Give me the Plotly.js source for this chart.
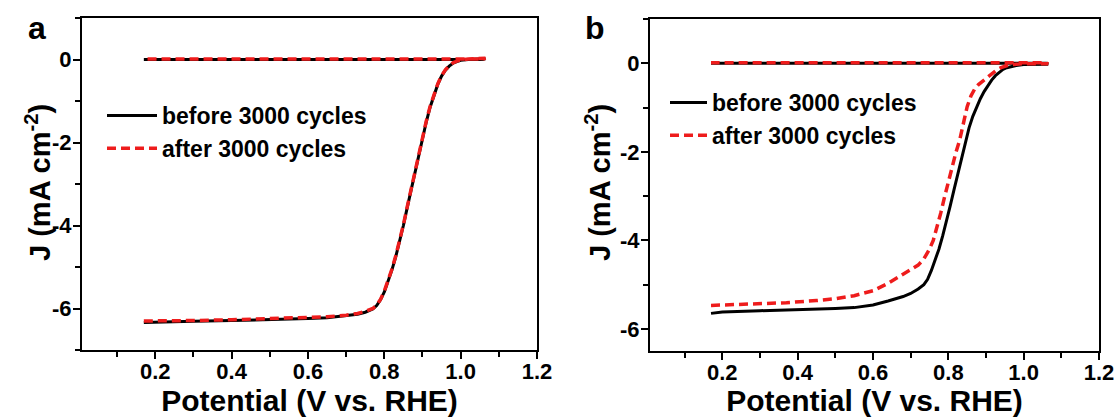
<!DOCTYPE html>
<html>
<head>
<meta charset="utf-8">
<script src="https://cdn.plot.ly/plotly-3.0.1.min.js"></script>
<style>html,body{margin:0;padding:0;background:#fff;}#chart{width:1120px;height:417px;}</style>
</head>
<body>
<div id="chart"></div>
<script>
// ---- Panel a data ----
var aBeforeX = [0.17,0.2,0.3,0.4,0.5,0.6,0.65,0.7,0.73,0.75,0.77,0.78,0.79,0.8,0.81,0.82,0.83,0.84,0.85,0.86,0.87,0.88,0.89,0.9,0.91,0.92,0.93,0.94,0.95,0.96,0.97,0.98,0.99,1.0,1.02,1.04,1.065,1.06,0.8,0.5,0.17];
var aBeforeY = [-6.34,-6.33,-6.31,-6.29,-6.27,-6.24,-6.22,-6.18,-6.14,-6.09,-6.01,-5.93,-5.79,-5.6,-5.36,-5.07,-4.75,-4.4,-4.0,-3.57,-3.15,-2.72,-2.3,-1.9,-1.5,-1.15,-0.85,-0.6,-0.4,-0.26,-0.16,-0.09,-0.05,-0.02,0.0,0.01,0.02,0.0,0.0,0.0,0.0];
var aAfterX  = [0.17,0.2,0.3,0.4,0.5,0.6,0.65,0.7,0.73,0.75,0.77,0.78,0.79,0.8,0.81,0.82,0.83,0.84,0.85,0.86,0.87,0.88,0.89,0.9,0.91,0.92,0.93,0.94,0.95,0.96,0.97,0.98,0.99,1.0,1.02,1.04,1.065,1.06,0.8,0.5,0.17];
var aAfterY  = [-6.30,-6.30,-6.29,-6.27,-6.25,-6.22,-6.20,-6.16,-6.12,-6.07,-6.0,-5.92,-5.78,-5.58,-5.34,-5.05,-4.73,-4.38,-3.98,-3.55,-3.13,-2.7,-2.28,-1.88,-1.48,-1.13,-0.84,-0.59,-0.39,-0.25,-0.15,-0.08,-0.04,-0.01,0.01,0.02,0.03,0.01,0.01,0.01,0.01];

// ---- Panel b data ----
var bBeforeX = [0.17,0.2,0.3,0.4,0.5,0.55,0.6,0.64,0.68,0.7,0.72,0.735,0.745,0.755,0.765,0.775,0.785,0.795,0.805,0.815,0.825,0.835,0.845,0.855,0.865,0.875,0.885,0.895,0.905,0.915,0.925,0.935,0.945,0.955,0.97,0.98,1.0,1.03,1.065,1.06,0.8,0.5,0.17];
var bBeforeY = [-5.65,-5.62,-5.59,-5.57,-5.54,-5.52,-5.46,-5.37,-5.27,-5.2,-5.1,-5.0,-4.88,-4.68,-4.45,-4.2,-3.9,-3.58,-3.22,-2.86,-2.5,-2.12,-1.76,-1.46,-1.2,-0.98,-0.8,-0.64,-0.5,-0.38,-0.28,-0.2,-0.14,-0.1,-0.06,-0.05,-0.03,-0.02,-0.02,0.0,0.0,0.0,0.0];
var bAfterX  = [0.17,0.2,0.25,0.3,0.37,0.45,0.5,0.55,0.6,0.64,0.67,0.7,0.72,0.735,0.75,0.76,0.77,0.78,0.79,0.8,0.81,0.82,0.83,0.84,0.85,0.86,0.87,0.88,0.89,0.9,0.91,0.92,0.93,0.94,0.95,0.96,0.98,1.0,1.065,1.06,0.8,0.5,0.17];
var bAfterY  = [-5.47,-5.46,-5.45,-5.44,-5.41,-5.36,-5.32,-5.25,-5.14,-4.97,-4.82,-4.68,-4.56,-4.42,-4.2,-4.0,-3.72,-3.38,-3.02,-2.66,-2.32,-2.02,-1.74,-1.35,-0.98,-0.74,-0.58,-0.48,-0.41,-0.34,-0.27,-0.19,-0.14,-0.1,-0.07,-0.04,-0.02,-0.01,-0.01,0.01,0.01,0.01,0.01];

// ---- Labels ----
var seriesNames = ['before 3000 cycles', 'after 3000 cycles'];
var xTickVals = [0.2,0.4,0.6,0.8,1.0,1.2];
var xTickText = ['0.2','0.4','0.6','0.8','1.0','1.2'];
var aYTickVals = [-6,-4,-2,0];
var aYTickText = ['-6','-4','-2','0'];
var bYTickVals = [-6,-4,-2,0];
var bYTickText = ['-6','-4','-2','0'];
var xTitle = 'Potential (V vs. RHE)';
var yTitle = 'J (mA cm<sup>-2</sup>)';
var panelLabels = ['a','b'];

var FONT = 'Liberation Sans, Arial, sans-serif';
var RED = '#ee1c1c';

var traces = [
  {x:aBeforeX, y:aBeforeY, xaxis:'x', yaxis:'y', mode:'lines', name:seriesNames[0], legend:'legend', legendgroup:'a1',
   line:{color:'#000', width:3}},
  {x:aAfterX, y:aAfterY, xaxis:'x', yaxis:'y', mode:'lines', name:seriesNames[1], legend:'legend', legendgroup:'a2',
   line:{color:RED, width:3.5, dash:'9px,5px'}},
  {x:bBeforeX, y:bBeforeY, xaxis:'x2', yaxis:'y2', mode:'lines', name:seriesNames[0], legend:'legend2', legendgroup:'b1',
   line:{color:'#000', width:3}},
  {x:bAfterX, y:bAfterY, xaxis:'x2', yaxis:'y2', mode:'lines', name:seriesNames[1], legend:'legend2', legendgroup:'b2',
   line:{color:RED, width:3.5, dash:'9px,5px'}}
];

function xAxis(domain, anchor){
  return {
    domain: domain, anchor: anchor, range:[0.008,1.2],
    showline:true, mirror:true, linecolor:'#000', linewidth:2,
    showgrid:false, zeroline:false,
    ticks:'outside', ticklen:7, tickwidth:2, tickcolor:'#000',
    tickvals:xTickVals, ticktext:xTickText, ticklabelstandoff:-6,
    minor:{ticks:'outside', ticklen:5, tickwidth:2, tickcolor:'#000', dtick:0.1, tick0:0, showgrid:false},
    tickfont:{family:FONT, size:22, color:'#000', weight:'bold'},
    title:{text:xTitle, font:{family:FONT, size:30, color:'#000', weight:'bold'}, standoff:6},
    automargin:false
  };
}
function yAxis(domain, anchor, range, tv, tt){
  return {
    domain: domain, anchor: anchor, range:range,
    showline:true, mirror:true, linecolor:'#000', linewidth:2,
    showgrid:false, zeroline:false,
    ticks:'outside', ticklen:7, tickwidth:2, tickcolor:'#000',
    tickvals:tv, ticktext:tt, ticklabelstandoff:-3,
    minor:{ticks:'outside', ticklen:5, tickwidth:2, tickcolor:'#000', dtick:1, tick0:0, showgrid:false},
    tickfont:{family:FONT, size:22, color:'#000', weight:'bold'},
    automargin:false
  };
}

var W = 1120, H = 417;
var legendFont = {family:FONT, size:23, color:'#000', weight:'bold'};
var titleFont = {family:FONT, size:29, color:'#000', weight:'bold'};

var layout = {
  width:W, height:H,
  margin:{l:0, r:0, t:0, b:0},
  paper_bgcolor:'#fff', plot_bgcolor:'#fff',
  showlegend:true,
  xaxis: xAxis([82/W, 537/W], 'y'),
  yaxis: yAxis([1-350/H, 1-18/H], 'x', [-7, 1], aYTickVals, aYTickText),
  xaxis2: xAxis([650/W, 1099/W], 'y2'),
  yaxis2: yAxis([1-351/H, 1-19/H], 'x2', [-6.5, 1], bYTickVals, bYTickText),
  legend:{x:102/W, y:1-94/H, xanchor:'left', yanchor:'top', bgcolor:'rgba(0,0,0,0)', borderwidth:0,
          font:legendFont, tracegroupgap:0, itemwidth:50},
  legend2:{x:665/W, y:1-81/H, xanchor:'left', yanchor:'top', bgcolor:'rgba(0,0,0,0)', borderwidth:0,
          font:legendFont, tracegroupgap:0, itemwidth:37},
  annotations:[
    {text:yTitle, xref:'paper', yref:'paper', x:38/W, y:1-183/H, xanchor:'center', yanchor:'middle', textangle:-90,
     showarrow:false, font:titleFont},
    {text:yTitle, xref:'paper', yref:'paper', x:598/W, y:1-183/H, xanchor:'center', yanchor:'middle', textangle:-90,
     showarrow:false, font:titleFont},
    {text:panelLabels[0], xref:'paper', yref:'paper', x:37/W, y:1-28/H, xanchor:'center', yanchor:'middle',
     showarrow:false, font:{family:FONT, size:32, color:'#000', weight:'bold'}},
    {text:panelLabels[1], xref:'paper', yref:'paper', x:595/W, y:1-28/H, xanchor:'center', yanchor:'middle',
     showarrow:false, font:{family:FONT, size:32, color:'#000', weight:'bold'}}
  ]
};

Plotly.newPlot('chart', traces, layout, {displayModeBar:false, staticPlot:true});
</script>
</body>
</html>
